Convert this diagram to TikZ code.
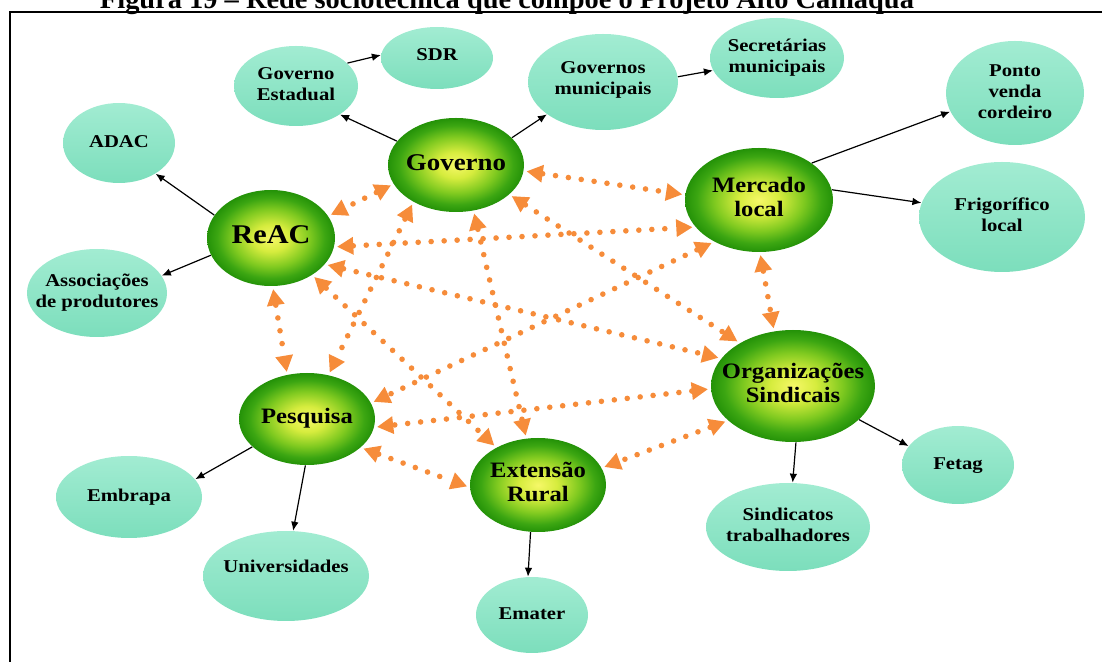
\documentclass[tikz,border=0pt]{standalone}
\usepackage{fontspec}
\setmainfont{Liberation Serif}
\usetikzlibrary{arrows.meta,shapes.geometric}
\definecolor{orng}{RGB}{246,140,58}
\definecolor{tealT}{RGB}{162,236,210}
\definecolor{tealB}{RGB}{124,222,188}
\definecolor{hubA}{RGB}{246,248,104}
\definecolor{hubB}{RGB}{214,236,62}
\definecolor{hubC}{RGB}{128,202,32}
\definecolor{hubD}{RGB}{60,166,18}
\definecolor{hubE}{RGB}{36,146,8}
\pgfdeclareradialshading{hubshade}{\pgfpoint{0bp}{0bp}}{color(0bp)=(hubA); color(7bp)=(hubB); color(15bp)=(hubC); color(21bp)=(hubD); color(25bp)=(hubE); color(50bp)=(hubE)}
\newcommand\hbx[1]{\scalebox{1.12}[1]{\begin{tabular}{@{}c@{}}#1\end{tabular}}}
\newcommand\tbx[1]{\scalebox{1.15}[1]{\begin{tabular}{@{}c@{}}#1\end{tabular}}}
\tikzset{
  hub/.style={ellipse, inner sep=0pt, shade, shading=hubshade},
  leaf/.style={ellipse, inner sep=0pt, top color=tealT, bottom color=tealB},
  hubtxt/.style={font=\fontsize{11}{12}\selectfont\bfseries, inner sep=0pt},
  leaftxt/.style={font=\fontsize{9}{10.5}\selectfont\bfseries, inner sep=0pt},
  blk/.style={-{Latex[length=4.5pt,width=3.8pt]}, line width=0.6pt, black},
  link/.style={{Triangle[length=8pt,width=9pt,line width=0pt]}-{Triangle[length=8pt,width=9pt,line width=0pt]},
    draw=orng, line width=2.8pt, line cap=round, dash pattern=on 0pt off 6.5pt,
    shorten <=1.5pt, shorten >=1.5pt}
}
\begin{document}
\begin{tikzpicture}[x=0.5pt,y=-0.5pt]
\useasboundingbox (0,0) rectangle (1104,662);
\node[anchor=base, inner sep=0pt, font=\fontsize{14}{16}\selectfont\bfseries] (title) at (507,9)
  {\resizebox{407pt}{\height}{Figura 19 – Rede sociotécnica que compõe o Projeto Alto Camaquã}};
\draw[line width=1pt] (1102,12) -- (10,12) -- (10,672);

% hubs
\node[hub, minimum width=68pt, minimum height=47pt,
  label={[hubtxt, font=\fontsize{12}{13}\selectfont\bfseries]center:\hbx{Governo}}] (gov) at (456,165) {};
\node[hub, minimum width=64pt, minimum height=48pt,
  label={[hubtxt, font=\fontsize{13.5}{15}\selectfont\bfseries]center:\hbx{ReAC}}] (reac) at (271,238) {};
\node[hub, minimum width=74pt, minimum height=52pt,
  label={[hubtxt]center:\hbx{Mercado\\local}}] (merc) at (759,200) {};
\node[hub, minimum width=82pt, minimum height=56pt,
  label={[hubtxt]center:\hbx{Organizações\\Sindicais}}] (org) at (793,386) {};
\node[hub, minimum width=68pt, minimum height=46pt,
  label={[hubtxt]center:\hbx{Pesquisa}}] (pesq) at (307,419) {};
\node[hub, minimum width=68pt, minimum height=47pt,
  label={[hubtxt]center:\hbx{Extensão\\Rural}}] (ext) at (538,485) {};

% leaves
\node[leaf, minimum width=62pt, minimum height=40pt, label={[leaftxt]center:\tbx{Governo\\Estadual}}] (gest) at (296,86) {};
\node[leaf, minimum width=56pt, minimum height=31pt, label={[leaftxt, yshift=1pt]center:\tbx{SDR}}] (sdr) at (437,58) {};
\node[leaf, minimum width=75pt, minimum height=48pt, label={[leaftxt, yshift=1pt]center:\tbx{Governos\\municipais}}] (gmun) at (603,82) {};
\node[leaf, minimum width=67pt, minimum height=40pt, label={[leaftxt]center:\tbx{Secretárias\\municipais}}] (sec) at (777,58) {};
\node[leaf, minimum width=69pt, minimum height=52pt, label={[leaftxt]center:\tbx{Ponto\\venda\\cordeiro}}] (ponto) at (1015,93) {};
\node[leaf, minimum width=83pt, minimum height=55pt, label={[leaftxt]center:\tbx{Frigorífico\\local}}] (frig) at (1002,217) {};
\node[leaf, minimum width=56pt, minimum height=40pt, label={[leaftxt]center:\tbx{ADAC}}] (adac) at (119,143) {};
\node[leaf, minimum width=70pt, minimum height=44pt, label={[leaftxt]center:\tbx{Associações\\de produtores}}] (assoc) at (97,293) {};
\node[leaf, minimum width=73pt, minimum height=41pt, label={[leaftxt]center:\tbx{Embrapa}}] (embr) at (129,497) {};
\node[leaf, minimum width=83pt, minimum height=45pt, label={[leaftxt, yshift=4pt]center:\tbx{Universidades}}] (univ) at (286,576) {};
\node[leaf, minimum width=56pt, minimum height=38pt, label={[leaftxt]center:\tbx{Emater}}] (emat) at (532,615) {};
\node[leaf, minimum width=82pt, minimum height=44pt, label={[leaftxt]center:\tbx{Sindicatos\\trabalhadores}}] (sind) at (788,527) {};
\node[leaf, minimum width=56pt, minimum height=39pt, label={[leaftxt]center:\tbx{Fetag}}] (fetag) at (958,465) {};

% black arrows
\draw[blk] (gov.158) -- (gest.-33);
\draw[blk] (gov.26) -- (gmun.210);
\draw[blk] (gest.24) -- (sdr.177);
\draw[blk] (gmun.4) -- (sec.191);
\draw[blk] (merc.35) -- (ponto.196);
\draw[blk] (merc.8) -- (frig.170);
\draw[blk] (reac.158) -- (adac.-40);
\draw[blk] (reac.196) -- (assoc.15);
\draw[blk] (pesq.207) -- (embr.15);
\draw[blk] (pesq.268) -- (univ.81);
\draw[blk] (ext.261) -- (emat.96);
\draw[blk] (org.273) -- (sind.84);
\draw[blk] (org.333) -- (fetag.159);

% orange dotted links
\draw[link] (gov.197) -- (reac.21);
\draw[link] (gov.355) -- (merc.176);
\draw[link] (gov.221) -- (pesq.64);
\draw[link] (gov.291) -- (ext.104);
\draw[link] (gov.331) -- (org.141);
\draw[link] (reac.352) -- (merc.203);
\draw[link] (reac.334) -- (org.159);
\draw[link] (reac.318) -- (ext.138);
\draw[link] (reac.272) -- (pesq.114);
\draw[link] (merc.223) -- (pesq.14);
\draw[link] (merc.271) -- (org.109);
\draw[link] (org.182) -- (pesq.353);
\draw[link] (org.208) -- (ext.15);
\draw[link] (pesq.332) -- (ext.182);
\end{tikzpicture}
\end{document}
